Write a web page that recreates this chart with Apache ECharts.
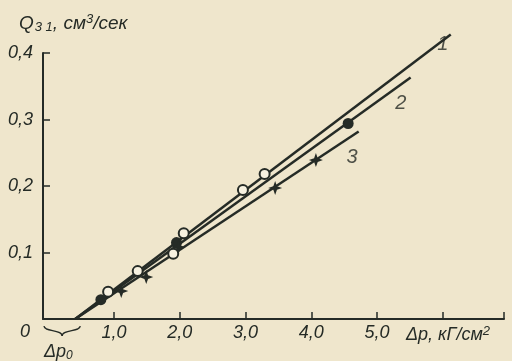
<!DOCTYPE html>
<html><head><meta charset="utf-8">
<script src="https://cdn.jsdelivr.net/npm/echarts@6/dist/echarts.min.js"></script>
<style>html,body{margin:0;padding:0;background:#efe6cc}#c{width:512px;height:361px}</style>
</head><body><div id="c"></div>
<script>
// ---- data ----
const xTicks = [1, 2, 3, 4, 5, 6, 6.93];
const xLabels = [1, 2, 3, 4, 5];
const yTicks = [0.1, 0.2, 0.3, 0.4];
const dp0 = 0.41;
const line1 = [[0.41, 0], [6.12, 0.428]];
const line2 = [[0.41, 0], [5.51, 0.363]];
const line3 = [[0.41, 0], [4.72, 0.282]];
const circles = [[0.91, 0.041], [1.36, 0.072], [1.90, 0.098], [2.06, 0.129], [2.96, 0.194], [3.29, 0.218], [5.79, 0.401]];
const dots = [[0.80, 0.029], [1.95, 0.115], [4.56, 0.294]];
const stars = [[1.11, 0.042], [1.49, 0.063], [1.98, 0.108], [3.45, 0.197], [4.07, 0.239]];
const curveLabels = [[6.0, 0.413, '1'], [5.36, 0.324, '2'], [4.62, 0.243, '3']];

const INK = '#252b26';
const PAPER = '#efe6cc';
const FONT = 'Liberation Sans';
const starPath = 'path://M0,-10 L2.6,-2.6 L10,0 L2.6,2.6 L0,10 L-2.6,2.6 L-10,0 L-2.6,-2.6 Z';

const chart = echarts.init(document.getElementById('c'));
const lineStyle = { color: INK, width: 2.5 };
chart.setOption({
  backgroundColor: PAPER,
  animation: false,
  title: {
    left: 14, top: 8,
    text: 'Q{sub|3 1}, см{sup|3}/сек',
    textStyle: {
      fontFamily: FONT, fontStyle: 'italic', fontWeight: 'normal', fontSize: 19, color: INK,
      rich: {
        sub: { fontFamily: FONT, fontStyle: 'italic', fontSize: 13, color: INK, verticalAlign: 'bottom', padding: [8, 0, 0, 1] },
        sup: { fontFamily: FONT, fontStyle: 'italic', fontSize: 13, color: INK, verticalAlign: 'top', padding: [0, 0, 8, 0] }
      }
    }
  },
  grid: { left: 43, right: 8, top: 53, bottom: 42, containLabel: false, outerBoundsMode: 'none' },
  xAxis: {
    type: 'value', min: -0.08, max: 6.93,
    splitLine: { show: false },
    axisLine: { onZero: false, lineStyle: { color: INK, width: 2 } },
    axisTick: { inside: true, length: 7, customValues: xTicks, lineStyle: { color: INK, width: 1.5 } },
    axisLabel: {
      customValues: xLabels, margin: 5,
      formatter: v => v.toFixed(1).replace('.', ','),
      fontFamily: FONT, fontStyle: 'italic', fontSize: 18, color: INK
    }
  },
  yAxis: {
    type: 'value', min: 0, max: 0.4,
    splitLine: { show: false },
    axisLine: { onZero: false, lineStyle: { color: INK, width: 2 } },
    axisTick: { inside: true, length: 7, customValues: yTicks, lineStyle: { color: INK, width: 1.5 } },
    axisLabel: {
      customValues: yTicks, margin: 10,
      formatter: v => v.toFixed(1).replace('.', ','),
      fontFamily: FONT, fontStyle: 'italic', fontSize: 18, color: INK
    }
  },
  series: [
    { type: 'line', data: line1, symbol: 'none', clip: false, lineStyle, z: 2 },
    { type: 'line', data: line2, symbol: 'none', clip: false, lineStyle, z: 2 },
    { type: 'line', data: line3, symbol: 'none', clip: false, lineStyle, z: 2 },
    { type: 'scatter', data: circles, symbol: 'circle', symbolSize: 10,
      itemStyle: { color: '#f6f1e0', borderColor: INK, borderWidth: 2, opacity: 1 }, z: 3 },
    { type: 'scatter', data: dots, symbol: 'circle', symbolSize: 11,
      itemStyle: { color: INK, opacity: 1 }, z: 3 },
    { type: 'scatter', data: stars, symbol: starPath, symbolSize: 14,
      itemStyle: { color: INK, opacity: 1 }, z: 3 },
    { type: 'scatter', data: curveLabels, symbolSize: 0, clip: false, silent: true,
      label: { show: true, position: 'inside', formatter: p => p.data[2],
        fontFamily: FONT, fontStyle: 'italic', fontSize: 20, color: INK }, z: 4 }
  ]
});

// annotations positioned through the chart's own coordinate conversion
const o = chart.convertToPixel({ gridIndex: 0 }, [-0.08, 0]);
const p0 = chart.convertToPixel({ gridIndex: 0 }, [dp0, 0]);
const x1 = o[0] + 1, x2 = p0[0] + 5, xm = (x1 + x2) / 2, yb = o[1] + 7;
const braceStyle = { stroke: INK, lineWidth: 1.3, fill: null };
chart.setOption({
  graphic: [
    { type: 'text', x: 20, y: o[1] + 4,
      style: { text: '0', font: 'italic 18px "Liberation Sans"', fill: INK } },
    { type: 'bezierCurve', shape: { x1: x1, y1: yb, cpx1: x1, cpy1: yb + 6, cpx2: xm, cpy2: yb + 3, x2: xm, y2: yb + 10 }, style: braceStyle },
    { type: 'bezierCurve', shape: { x1: x2, y1: yb, cpx1: x2, cpy1: yb + 6, cpx2: xm, cpy2: yb + 3, x2: xm, y2: yb + 10 }, style: braceStyle },
    { type: 'text', x: o[0] + 1, y: o[1] + 23,
      style: { text: 'Δp{s|0}', font: 'italic 18px "Liberation Sans"', fill: INK,
        rich: { s: { font: 'italic 12px "Liberation Sans"', fill: INK, padding: [8, 0, 0, 0] } } } },
    { type: 'text', x: 406, y: o[1] + 6,
      style: { text: 'Δp, кГ/см{sup|2}', font: 'italic 18px "Liberation Sans"', fill: INK,
        rich: { sup: { font: 'italic 13px "Liberation Sans"', fill: INK, padding: [0, 0, 7, 0] } } } }
  ]
});
</script>
</body></html>
